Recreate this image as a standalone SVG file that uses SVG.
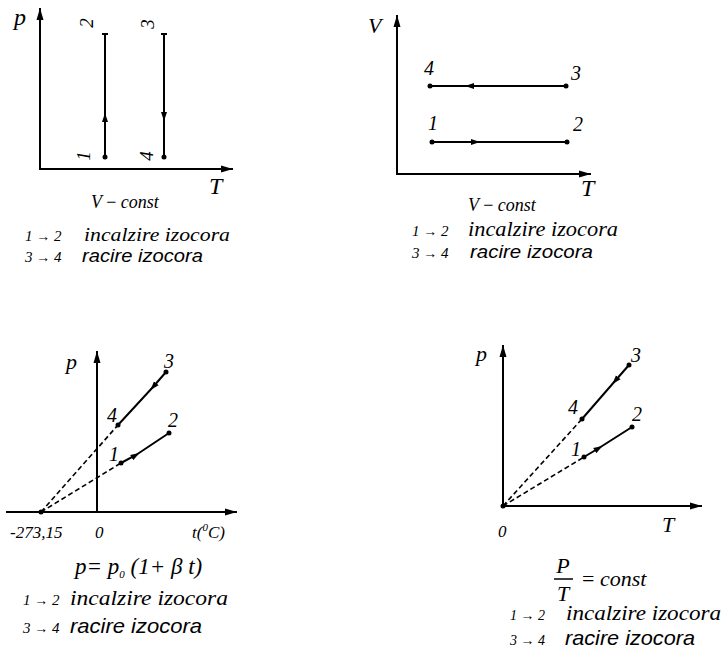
<svg xmlns="http://www.w3.org/2000/svg" width="722" height="653" viewBox="0 0 722 653">
<defs>
<marker id="ax" markerUnits="userSpaceOnUse" markerWidth="14" markerHeight="10" refX="12" refY="5" orient="auto"><path d="M0,1.5 L12,5 L0,8.5 Z" fill="#000"/></marker>
<marker id="mid" markerUnits="userSpaceOnUse" markerWidth="12" markerHeight="10" refX="5" refY="4" orient="auto"><path d="M0,1 L9,4 L0,7 Z" fill="#000"/></marker>
<style>
.ax{stroke:#000;stroke-width:2;fill:none}
.ln{stroke:#000;stroke-width:2;fill:none}
.ds{stroke:#000;stroke-width:1.6;fill:none;stroke-dasharray:5,3}
.dot{fill:#000}
.t{font-family:"Liberation Serif","Times New Roman",serif;font-style:italic;fill:#000}
.s{font-family:"Liberation Sans",Arial,sans-serif;font-style:italic;fill:#000}
.n{font-size:20px}
.ar{font-style:normal;font-size:14px}
</style>
</defs>
<rect width="722" height="653" fill="#fff"/>

<!-- Panel 1 -->
<g id="panel1">
<g id="p1-axes">
<line class="ax" x1="40" y1="169" x2="40" y2="8" marker-end="url(#ax)"/>
<line class="ax" x1="39" y1="169" x2="233" y2="169" marker-end="url(#ax)"/>
<text class="t" x="14" y="25" font-size="24">p</text>
<text class="t" x="209" y="194" font-size="24">T</text>
</g>
<g id="p1-n1"><circle class="dot" cx="105" cy="157" r="2.5"/><text class="t" transform="translate(83,156) rotate(-90)" text-anchor="middle" dominant-baseline="central" font-size="19">1</text></g>
<g id="p1-n2"><line class="ln" x1="102" y1="34" x2="108" y2="34"/><text class="t" transform="translate(86,23) rotate(-90)" text-anchor="middle" dominant-baseline="central" font-size="19">2</text></g>
<g id="p1-n3"><line class="ln" x1="161" y1="34" x2="167" y2="34"/><text class="t" transform="translate(147,24) rotate(-90)" text-anchor="middle" dominant-baseline="central" font-size="19">3</text></g>
<g id="p1-n4"><circle class="dot" cx="164" cy="157" r="2.5"/><text class="t" transform="translate(146,156) rotate(-90)" text-anchor="middle" dominant-baseline="central" font-size="19">4</text></g>
<g id="p1-connectors">
<polyline class="ln" points="105,157 105,117 105,34" marker-mid="url(#mid)"/>
<polyline class="ln" points="164,34 164,117 164,157" marker-mid="url(#mid)"/>
</g>
<text class="t" x="91" y="208" font-size="18">V <tspan font-style="normal">−</tspan> const</text>
<text class="t" x="25" y="241" font-size="15">1 <tspan class="ar">→</tspan> 2</text>
<text class="t" x="84" y="241" font-size="19" textLength="146" lengthAdjust="spacingAndGlyphs">incalzire izocora</text>
<text class="t" x="25" y="262" font-size="15">3 <tspan class="ar">→</tspan> 4</text>
<text class="s" x="82" y="262" font-size="18" textLength="121" lengthAdjust="spacingAndGlyphs">racire izocora</text>
</g>

<!-- Panel 2 -->
<g id="panel2">
<g id="p2-axes">
<line class="ax" x1="397" y1="174" x2="397" y2="15" marker-end="url(#ax)"/>
<line class="ax" x1="396" y1="174" x2="591" y2="174" marker-end="url(#ax)"/>
<text class="t" x="368" y="33" font-size="22">V</text>
<text class="t" x="581" y="196" font-size="24">T</text>
</g>
<g id="p2-n4"><circle class="dot" cx="430" cy="86" r="2.5"/><text class="t n" x="424" y="75">4</text></g>
<g id="p2-n3"><circle class="dot" cx="566" cy="86" r="2.5"/><text class="t n" x="571" y="80">3</text></g>
<g id="p2-n1"><circle class="dot" cx="432" cy="142" r="2.5"/><text class="t n" x="428" y="130">1</text></g>
<g id="p2-n2"><circle class="dot" cx="567" cy="142" r="2.5"/><text class="t n" x="573" y="131">2</text></g>
<g id="p2-connectors">
<polyline class="ln" points="566,86 469,86 430,86" marker-mid="url(#mid)"/>
<polyline class="ln" points="432,142 476,142 567,142" marker-mid="url(#mid)"/>
</g>
<text class="t" x="468" y="211" font-size="18">V <tspan font-style="normal">−</tspan> const</text>
<text class="t" x="412" y="236" font-size="15">1 <tspan class="ar">→</tspan> 2</text>
<text class="t" x="468" y="236" font-size="20" textLength="150" lengthAdjust="spacingAndGlyphs">incalzire izocora</text>
<text class="t" x="412" y="258" font-size="15">3 <tspan class="ar">→</tspan> 4</text>
<text class="s" x="470" y="258" font-size="19" textLength="123" lengthAdjust="spacingAndGlyphs">racire izocora</text>
</g>

<!-- Panel 3 -->
<g id="panel3">
<g id="p3-axes">
<line class="ax" x1="97" y1="512" x2="97" y2="351" marker-end="url(#ax)"/>
<line class="ax" x1="6" y1="512" x2="237" y2="512" marker-end="url(#ax)"/>
<text class="t" x="66" y="369" font-size="22">p</text>
<text class="t" x="10" y="538" font-size="17">-273,15</text>
<text class="t" x="95" y="538" font-size="17">0</text>
<text class="t" x="192" y="538" font-size="17">t(<tspan font-size="11" dy="-7">0</tspan><tspan dy="7">C)</tspan></text>
</g>
<g id="p3-n0"><circle class="dot" cx="41" cy="512" r="2.5"/></g>
<g id="p3-n3"><circle class="dot" cx="166" cy="372" r="2.5"/><text class="t n" x="164" y="368">3</text></g>
<g id="p3-n4"><circle class="dot" cx="118" cy="425" r="2.5"/><text class="t n" x="107" y="422">4</text></g>
<g id="p3-n2"><circle class="dot" cx="169" cy="433" r="2.5"/><text class="t n" x="168" y="427">2</text></g>
<g id="p3-n1"><circle class="dot" cx="121" cy="463" r="2.5"/><text class="t n" x="109" y="461">1</text></g>
<g id="p3-connectors">
<line class="ds" x1="41" y1="512" x2="118" y2="425"/>
<line class="ds" x1="41" y1="512" x2="121" y2="463"/>
<polyline class="ln" points="166,372 153,387 118,425" marker-mid="url(#mid)"/>
<polyline class="ln" points="121,463 136,455 169,433" marker-mid="url(#mid)"/>
</g>
<text class="t" x="75" y="574" font-size="23">p= p<tspan font-size="11" dy="4">0</tspan><tspan dy="-4"> (1+ β t)</tspan></text>
<text class="t" x="23" y="605" font-size="15">1 <tspan class="ar">→</tspan> 2</text>
<text class="t" x="70" y="605" font-size="22" textLength="158" lengthAdjust="spacingAndGlyphs">incalzire izocora</text>
<text class="t" x="23" y="633" font-size="15">3 <tspan class="ar">→</tspan> 4</text>
<text class="s" x="70" y="633" font-size="21" textLength="132" lengthAdjust="spacingAndGlyphs">racire izocora</text>
</g>

<!-- Panel 4 -->
<g id="panel4">
<g id="p4-axes">
<line class="ax" x1="503" y1="506" x2="503" y2="345" marker-end="url(#ax)"/>
<line class="ax" x1="502" y1="506" x2="702" y2="506" marker-end="url(#ax)"/>
<text class="t" x="476" y="361" font-size="22">p</text>
<text class="t" x="498" y="537" font-size="17">0</text>
<text class="t" x="662" y="532" font-size="22">T</text>
</g>
<g id="p4-n0"><circle class="dot" cx="503" cy="506" r="2.5"/></g>
<g id="p4-n3"><circle class="dot" cx="629" cy="365" r="2.5"/><text class="t n" x="631" y="362">3</text></g>
<g id="p4-n4"><circle class="dot" cx="582" cy="419" r="2.5"/><text class="t n" x="568" y="414">4</text></g>
<g id="p4-n2"><circle class="dot" cx="632" cy="427" r="2.5"/><text class="t n" x="632" y="421">2</text></g>
<g id="p4-n1"><circle class="dot" cx="584" cy="457" r="2.5"/><text class="t n" x="571" y="456">1</text></g>
<g id="p4-connectors">
<line class="ds" x1="503" y1="506" x2="582" y2="419"/>
<line class="ds" x1="503" y1="506" x2="584" y2="457"/>
<polyline class="ln" points="629,365 615,381 582,419" marker-mid="url(#mid)"/>
<polyline class="ln" points="584,457 599,448 632,427" marker-mid="url(#mid)"/>
</g>
<text class="t" x="563" y="573" font-size="22" text-anchor="middle">P</text>
<line x1="554" y1="579" x2="573" y2="579" stroke="#000" stroke-width="1.5"/>
<text class="t" x="563" y="601" font-size="22" text-anchor="middle">T</text>
<text class="t" x="582" y="586" font-size="22"><tspan font-style="normal">=</tspan> const</text>
<text class="t" x="510" y="620" font-size="14">1 <tspan class="ar">→</tspan> 2</text>
<text class="t" x="566" y="620" font-size="22" textLength="155" lengthAdjust="spacingAndGlyphs">incalzire izocora</text>
<text class="t" x="510" y="645" font-size="14">3 <tspan class="ar">→</tspan> 4</text>
<text class="s" x="565" y="645" font-size="21" textLength="130" lengthAdjust="spacingAndGlyphs">racire izocora</text>
</g>
</svg>
